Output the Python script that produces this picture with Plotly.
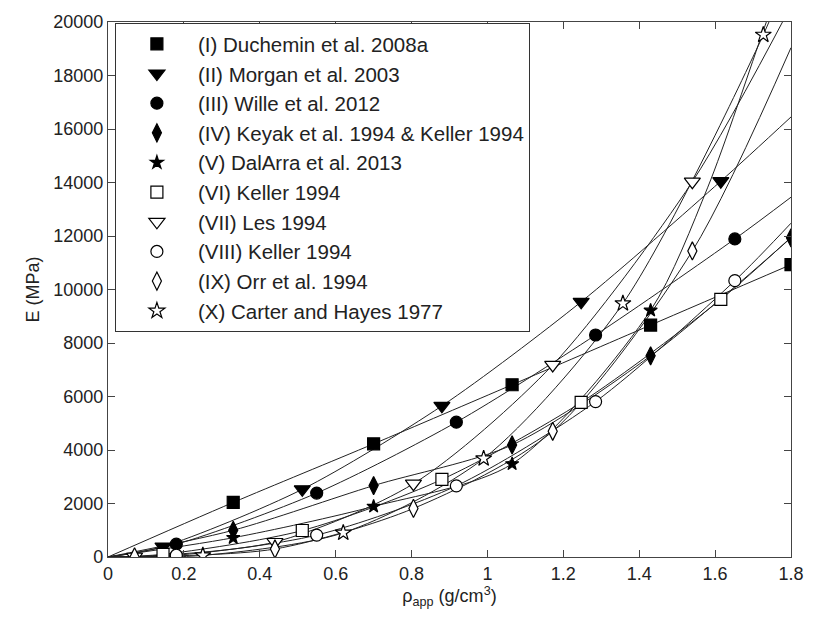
import plotly.graph_objects as go

# ---------------- data ----------------
names = [
    "(I) Duchemin et al. 2008a",
    "(II) Morgan et al. 2003",
    "(III) Wille et al. 2012",
    "(IV) Keyak et al. 1994 & Keller 1994",
    "(V) DalArra et al. 2013",
    "(VI) Keller 1994",
    "(VII) Les 1994",
    "(VIII) Keller 1994",
    "(IX) Orr et al. 1994",
    "(X) Carter and Hayes 1977",
]

# marker points
m1_x = [0.33, 0.70, 1.065, 1.43, 1.80]
m1_y = [2040, 4230, 6440, 8670, 10930]
m2_x = [0.145, 0.512, 0.88, 1.247, 1.615]
m2_y = [390, 2530, 5650, 9540, 14050]
m3_x = [0.18, 0.55, 0.918, 1.285, 1.652]
m3_y = [480, 2390, 5040, 8300, 11890]
m4_x = [0.33, 0.70, 1.065, 1.43, 1.80]
m4_y = [1000, 2670, 4190, 7520, 11930]
m5_x = [0.33, 0.70, 1.065, 1.43]
m5_y = [720, 1890, 3480, 9220]
m6_x = [0.145, 0.512, 0.88, 1.247, 1.615]
m6_y = [100, 990, 2900, 5780, 9630]
m7_x = [0.07, 0.44, 0.805, 1.172, 1.54]
m7_y = [10, 560, 2740, 7180, 14030]
m8_x = [0.18, 0.55, 0.918, 1.285, 1.652]
m8_y = [65, 820, 2660, 5810, 10330]
m9_x = [0.07, 0.44, 0.805, 1.172, 1.54]
m9_y = [5, 300, 1815, 4700, 11440]
m10_x = [0.25, 0.62, 0.99, 1.357, 1.727]
m10_y = [60, 905, 3680, 9480, 19520]

# fitted curves
c1_x = [0, 0.33, 0.70, 1.065, 1.43, 1.80]
c1_y = [0, 2040, 4230, 6440, 8670, 10930]
c2_x = [0, 0.145, 0.512, 0.88, 1.247, 1.615, 1.80]
c2_y = [0, 390, 2530, 5650, 9540, 14050, 16450]
c3_x = [0, 0.18, 0.55, 0.918, 1.285, 1.652, 1.80]
c3_y = [0, 480, 2390, 5040, 8300, 11890, 13450]
c4_x = [0, 0.33, 0.70, 1.065, 1.43, 1.80]
c4_y = [0, 1000, 2670, 4190, 7520, 11930]
c5_x = [0, 0.33, 0.70, 1.065, 1.43, 1.58, 1.73, 1.80]
c5_y = [0, 720, 1890, 3480, 9220, 13800, 19800, 22600]
c6_x = [0, 0.145, 0.512, 0.88, 1.247, 1.615, 1.80]
c6_y = [0, 100, 990, 2900, 5780, 9630, 11950]
c7_x = [0, 0.07, 0.44, 0.805, 1.172, 1.54, 1.80]
c7_y = [0, 10, 560, 2740, 7180, 14030, 20600]
c8_x = [0, 0.18, 0.55, 0.918, 1.285, 1.652, 1.80]
c8_y = [0, 65, 820, 2660, 5810, 10330, 12480]
c9_x = [0, 0.07, 0.44, 0.805, 1.172, 1.54, 1.80]
c9_y = [0, 5, 300, 1815, 4700, 11440, 19040]
c10_x = [0, 0.25, 0.62, 0.99, 1.357, 1.727, 1.80]
c10_y = [0, 60, 905, 3680, 9480, 19520, 22100]

x_ticks = [0, 0.2, 0.4, 0.6, 0.8, 1.0, 1.2, 1.4, 1.6, 1.8]
x_labels = ["0", "0.2", "0.4", "0.6", "0.8", "1", "1.2", "1.4", "1.6", "1.8"]
y_ticks = [0, 2000, 4000, 6000, 8000, 10000, 12000, 14000, 16000, 18000, 20000]

markers = [(m1_x, m1_y), (m2_x, m2_y), (m3_x, m3_y), (m4_x, m4_y), (m5_x, m5_y),
           (m6_x, m6_y), (m7_x, m7_y), (m8_x, m8_y), (m9_x, m9_y), (m10_x, m10_y)]
curves = [(c1_x, c1_y), (c2_x, c2_y), (c3_x, c3_y), (c4_x, c4_y), (c5_x, c5_y),
          (c6_x, c6_y), (c7_x, c7_y), (c8_x, c8_y), (c9_x, c9_y), (c10_x, c10_y)]

# ---------------- styles ----------------
symbols = ["square", "triangle-down", "circle", "diamond-tall", "star",
           "square", "triangle-down", "circle", "diamond-tall", "star"]
fills = ["black"] * 5 + ["white"] * 5
sizes = [12, 14, 12, 13, 10, 12, 14, 12, 13, 12]

fig = go.Figure()
for cx, cy in curves:
    fig.add_trace(go.Scatter(x=cx, y=cy, mode="lines", showlegend=False,
                             line=dict(color="#222", width=1, shape="spline", smoothing=0.8),
                             hoverinfo="skip"))
for i, (mx, my) in enumerate(markers):
    fig.add_trace(go.Scatter(x=mx, y=my, mode="markers", name=names[i],
                             marker=dict(symbol=symbols[i], size=sizes[i], color=fills[i],
                                         line=dict(color="black", width=1.2))))

font = "Liberation Sans, Arial, sans-serif"
fig.update_layout(
    width=816, height=627,
    margin=dict(l=108, r=16, t=17, b=70),
    paper_bgcolor="white", plot_bgcolor="white",
    font=dict(family=font, size=18, color="#222"),
    showlegend=True,
    legend=dict(x=0.0101, y=0.998, xanchor="left", yanchor="top",
                bgcolor="white", bordercolor="#333", borderwidth=1,
                font=dict(family=font, size=20.5, color="#222"),
                itemwidth=72),
    xaxis=dict(range=[0, 1.8], tickvals=x_ticks, ticktext=x_labels,
               showline=True, linecolor="#444", linewidth=1.2, mirror="ticks",
               ticks="inside", ticklen=7, tickcolor="#444", showgrid=False, zeroline=False,
               title=dict(text="ρ<sub>app</sub> (g/cm<sup>3</sup>)", standoff=6,
                          font=dict(size=18))),
    yaxis=dict(range=[0, 20000], tickvals=y_ticks, tickformat="d",
               showline=True, linecolor="#444", linewidth=1.2, mirror="ticks",
               ticks="inside", ticklen=7, tickcolor="#444", showgrid=False, zeroline=False,
               title=dict(text="E (MPa)", standoff=8, font=dict(size=18))),
)

fig.write_html("out.html")
